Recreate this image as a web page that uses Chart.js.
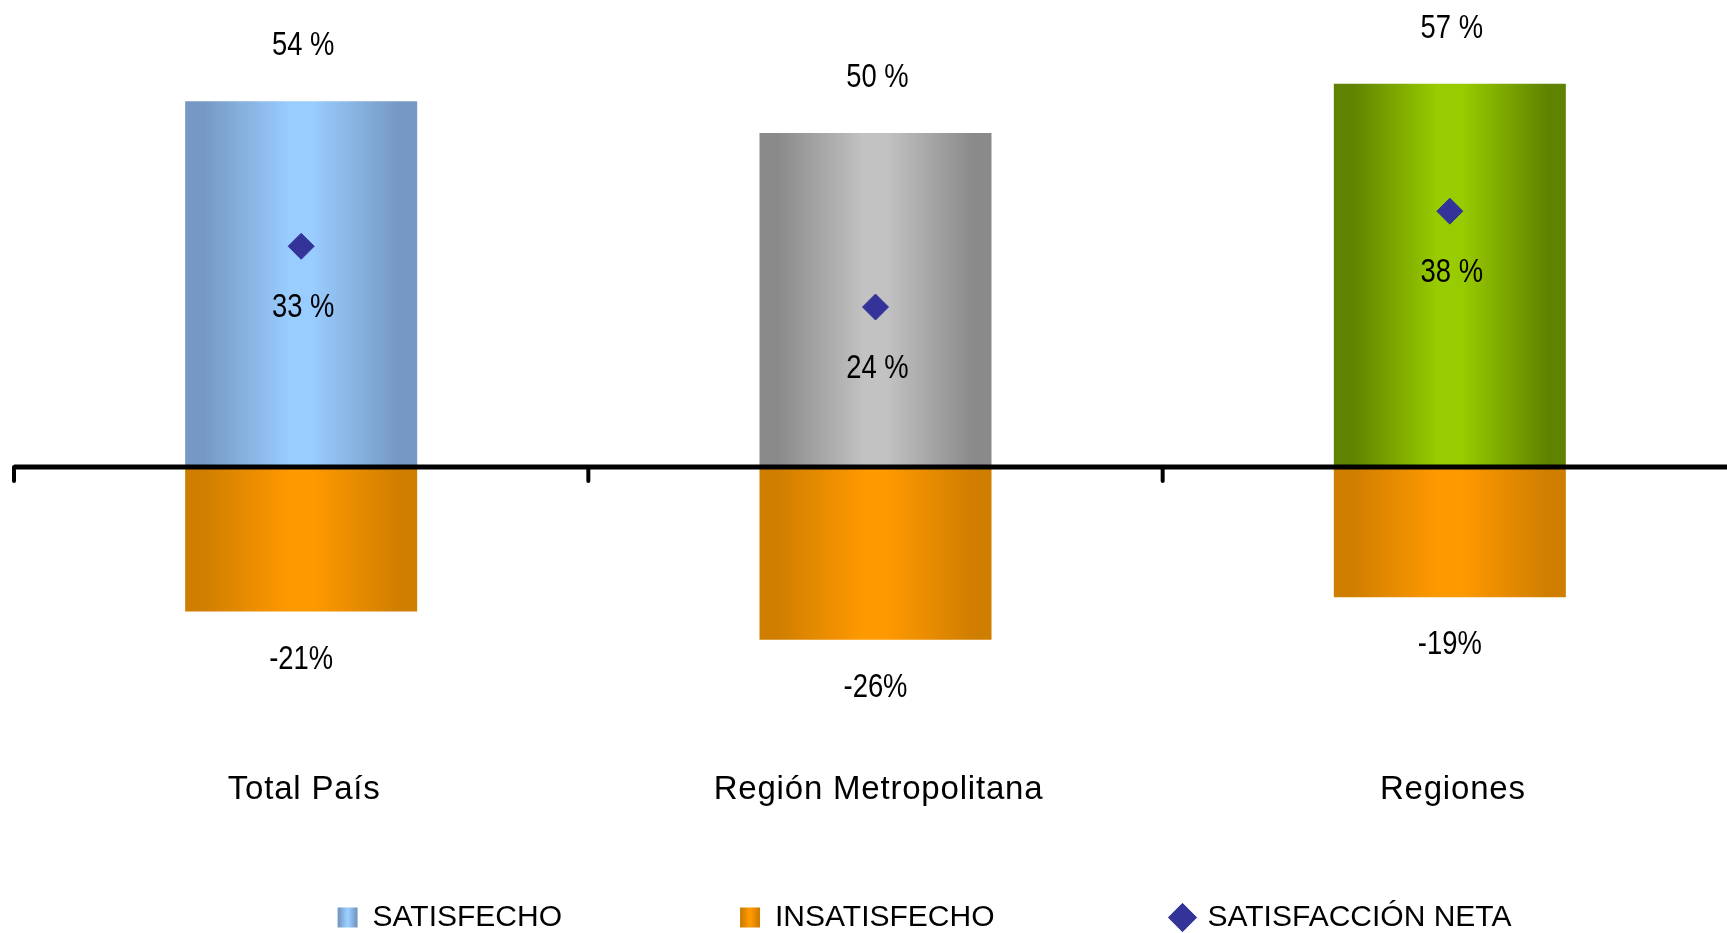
<!DOCTYPE html>
<html>
<head>
<meta charset="utf-8">
<script src="https://cdn.jsdelivr.net/npm/chart.js@4.4.1/dist/chart.umd.min.js"></script>
<style>
  html, body { margin: 0; padding: 0; background: #ffffff; overflow: hidden; }
  #wrap { width: 1849px; height: 933px; }
</style>
</head>
<body>
<div id="wrap"><canvas id="c" width="1849" height="933"></canvas></div>
<script>
// ---- data (labels show the rounded values) ----
const categories = ['Total País', 'Región Metropolitana', 'Regiones'];
const satisfecho = [54.2, 49.5, 56.8];
const insatisfecho = [-21.4, -25.6, -19.3];
const satisfaccionNeta = [32.7, 23.7, 37.9];
const seriesNames = ['SATISFECHO', 'INSATISFECHO', 'SATISFACCIÓN NETA'];

// ---- styles ----
const satColors = [['#7699C3', '#99CCFF'], ['#8A8A8A', '#C2C2C2'], ['#5F8300', '#99CC00']];
const insColors = [['#D07E00', '#FF9900'], ['#D07E00', '#FF9900'], ['#D07E00', '#FF9900']];
const CAT_PCT = 0.404;
const MAIN_FONT = "'Liberation Sans', Arial, sans-serif";
const LEGEND_SIZE = 30;

function makeGrad(chart, x0, x1, pair) {
  const g = chart.ctx.createLinearGradient(x0, 0, x1, 0);
  g.addColorStop(0, pair[0]);
  g.addColorStop(0.08, pair[0]);
  g.addColorStop(0.45, pair[1]);
  g.addColorStop(0.55, pair[1]);
  g.addColorStop(0.92, pair[0]);
  g.addColorStop(1, pair[0]);
  return g;
}
function barGradient(colors) {
  return (ctx) => {
    const chart = ctx.chart;
    const xs = chart.scales && chart.scales.x;
    const i = ctx.dataIndex || 0;
    if (!chart.chartArea || !xs || !xs.width) return colors[i][1];
    const cx = xs.getPixelForValue(i);
    const half = xs.width / categories.length * CAT_PCT / 2;
    return makeGrad(chart, cx - half, cx + half, colors[i]);
  };
}

function narrowText(ctx, text, x, y, sx) {
  ctx.save();
  ctx.translate(x, y);
  ctx.scale(sx, 1);
  ctx.fillText(text, 0, 0);
  ctx.restore();
}

const axisPlugin = {
  id: 'zeroAxis',
  afterDatasetsDraw(chart) {
    const { ctx, chartArea } = chart;
    const xs = chart.scales.x, ys = chart.scales.y;
    const y0 = ys.getPixelForValue(0);
    ctx.save();
    ctx.strokeStyle = '#000';
    ctx.lineWidth = 5;
    ctx.beginPath();
    ctx.moveTo(chartArea.left, y0);
    ctx.lineTo(chartArea.right + 20, y0);
    ctx.stroke();
    ctx.lineWidth = 4;
    ctx.lineCap = 'round';
    const w = xs.width / categories.length;
    for (let i = 0; i <= categories.length; i++) {
      const x = xs.left + i * w;
      ctx.beginPath();
      ctx.moveTo(x, y0);
      ctx.lineTo(x, y0 + 14);
      ctx.stroke();
    }
    // category labels, placed from the x scale
    ctx.fillStyle = '#000';
    ctx.font = '33px ' + MAIN_FONT;
    if ('letterSpacing' in ctx) ctx.letterSpacing = '0.8px';
    ctx.textAlign = 'center';
    ctx.textBaseline = 'middle';
    categories.forEach((c, i) => {
      ctx.fillText(xs.getLabelForValue(i), xs.getPixelForValue(i) + 3, y0 + 323);
    });
    ctx.restore();
  }
};

const labelPlugin = {
  id: 'valueLabels',
  afterDatasetsDraw(chart) {
    const ctx = chart.ctx;
    ctx.save();
    ctx.fillStyle = '#000';
    ctx.font = '33px ' + MAIN_FONT;
    ctx.textAlign = 'center';
    ctx.textBaseline = 'middle';
    const sx = 0.83;
    chart.getDatasetMeta(0).data.forEach((el, i) => {
      narrowText(ctx, Math.round(satisfecho[i]) + ' %', el.x + 2, el.y - 55, sx);
    });
    chart.getDatasetMeta(1).data.forEach((el, i) => {
      narrowText(ctx, Math.round(insatisfecho[i]) + '%', el.x, el.y + 48, sx);
    });
    chart.getDatasetMeta(2).data.forEach((el, i) => {
      narrowText(ctx, Math.round(satisfaccionNeta[i]) + ' %', el.x + 2, el.y + 62, sx);
    });
    ctx.restore();
  }
};

const legendBoxPlugin = {
  id: 'legendGradientBoxes',
  afterDraw(chart) {
    const lg = chart.legend;
    if (!lg || !lg.legendHitBoxes) return;
    const ctx = chart.ctx;
    const box = 20, fs = LEGEND_SIZE;
    const pairs = [satColors[0], insColors[0]];
    lg.legendHitBoxes.forEach((hb, k) => {
      const item = lg.legendItems[k];
      if (!item || item.datasetIndex > 1) return;
      const cx = hb.left + box / 2, cy = hb.top + fs / 2;
      ctx.save();
      ctx.fillStyle = '#ffffff';
      ctx.fillRect(cx - box / 2 - 1, cy - box / 2 - 1, box + 2, box + 2);
      ctx.fillStyle = makeGrad(chart, cx - box / 2, cx + box / 2, pairs[item.datasetIndex]);
      ctx.fillRect(cx - box / 2, cy - box / 2, box, box);
      ctx.restore();
    });
  }
};

Chart.defaults.color = '#000';
Chart.defaults.font.family = MAIN_FONT;

new Chart(document.getElementById('c'), {
  data: {
    labels: categories,
    datasets: [
      {
        type: 'bar', label: seriesNames[0], data: satisfecho, order: 2,
        grouped: false, barPercentage: 1, categoryPercentage: CAT_PCT,
        backgroundColor: barGradient(satColors), borderWidth: 0, pointStyle: 'rect'
      },
      {
        type: 'bar', label: seriesNames[1], data: insatisfecho, order: 1,
        grouped: false, barPercentage: 1, categoryPercentage: CAT_PCT,
        backgroundColor: barGradient(insColors), borderWidth: 0, pointStyle: 'rect'
      },
      {
        type: 'line', label: seriesNames[2], data: satisfaccionNeta, order: 0,
        showLine: false, pointStyle: 'rectRot', pointRadius: 13, pointHoverRadius: 13,
        backgroundColor: '#333399', borderColor: '#333399', pointBorderWidth: 1
      }
    ]
  },
  options: {
    responsive: false,
    animation: false,
    devicePixelRatio: 1,
    layout: { padding: 0, autoPadding: false },
    scales: {
      x: {
        type: 'category', offset: true,
        grid: { display: false, drawTicks: false },
        border: { display: false },
        ticks: { display: false },
        afterFit(s) { s.height = 0; }
      },
      y: {
        position: 'left', min: -38.15, max: 69.19,
        grid: { display: false, drawTicks: false },
        border: { display: false },
        ticks: { display: false },
        afterFit(s) { s.width = 14; }
      },
      y2: {
        position: 'right', min: 0, max: 1,
        grid: { display: false, drawTicks: false },
        border: { display: false },
        ticks: { display: false },
        afterFit(s) { s.width = 112; }
      }
    },
    plugins: {
      tooltip: { enabled: false },
      legend: {
        position: 'bottom',
        maxHeight: 208.5,
        labels: {
          usePointStyle: true,
          boxWidth: 20, boxHeight: 20,
          padding: 178,
          color: '#000',
          font: { size: LEGEND_SIZE, family: MAIN_FONT },
          sort: (a, b) => a.datasetIndex - b.datasetIndex
        }
      }
    }
  },
  plugins: [axisPlugin, labelPlugin, legendBoxPlugin]
});
</script>
</body>
</html>
